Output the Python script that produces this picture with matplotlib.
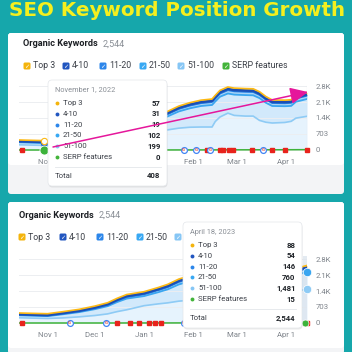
import numpy as np
import matplotlib
matplotlib.use("Agg")
import matplotlib.pyplot as plt
from matplotlib.patches import FancyBboxPatch

plt.rcParams["font.family"] = ["Roboto", "DejaVu Sans"]

# days counted from Nov 1, 2022
days = [-18, -10, 0, 10, 20, 30, 38, 44, 50, 61, 70, 76, 83, 90, 97,
        104, 106, 109, 114, 118, 125, 130, 134, 138, 142, 150, 154, 157, 164]
top3 = [55, 55, 57, 58, 60, 62, 64, 66, 68, 70, 72, 74, 76, 78, 80,
        80, 82, 84, 86, 86, 86, 86, 85, 84, 83, 83, 84, 86, 88]
pos4_10 = [30, 30, 31, 32, 33, 35, 37, 39, 41, 43, 45, 47, 49, 50, 52,
           52, 53, 55, 56, 56, 56, 56, 55, 54, 53, 53, 53, 54, 54]
pos11_20 = [18, 18, 19, 25, 30, 40, 50, 60, 70, 80, 90, 100, 110, 120, 125,
            130, 135, 140, 145, 145, 145, 145, 140, 135, 130, 130, 135, 140, 146]
pos21_50 = [107, 107, 102, 160, 207, 278, 339, 420, 491, 422, 513, 594, 735, 832, 923,
            968, 880, 891, 863, 913, 923, 913, 980, 857, 748, 714, 678, 720, 760]
pos51_100 = [230, 215, 199, 225, 270, 330, 400, 500, 580, 760, 840, 885, 960, 1000, 1010,
             1010, 1250, 1450, 1620, 1520, 1490, 1490, 1300, 1220, 1186, 1210, 1260, 1400, 1481]
serp = [0, 0, 0, 0, 0, 0, 0, 0, 1, 1, 2, 2, 3, 3, 4,
        4, 5, 6, 7, 8, 8, 9, 9, 10, 10, 11, 12, 13, 15]

flag_days = [-16, 44, 52, 58, 64, 68, 72, 101, 109, 111, 115, 117, 129, 142, 150, 164]
google_days = [14, 37, 86, 94, 103, 136]

xtick_days = [0, 30, 61, 92, 120, 151]
xtick_labels = ["Nov 1", "Dec 1", "Jan 1", "Feb 1", "Mar 1", "Apr 1"]
ytick_vals = [0, 703, 1406, 2109, 2812]
ytick_labels = ["0", "703", "1.4K", "2.1K", "2.8K"]

legend_labels = ["Top 3", "4-10", "11-20", "21-50", "51-100", "SERP features"]
legend_colors = ["#F4B40C", "#2156C0", "#2C86EA", "#38A8F3", "#86C6F5", "#43B43A"]

tip_labels = ["Top 3", "4-10", "11-20", "21-50", "51-100", "SERP features"]
tip1_title = "November 1, 2022"
tip1_values = ["57", "31", "19", "102", "199", "0"]
tip1_total = "408"
tip2_title = "April 18, 2023"
tip2_values = ["88", "54", "146", "760", "1,481", "15"]
tip2_total = "2,544"

TEAL = "#16A7AB"
GREEN = "#3DB33A"
RED = "#E8231C"
layers = [pos51_100, pos21_50, pos11_20, pos4_10, top3]
fills = ["#E6F3FD", "#D2E9FB", "#A9D4F7", "#3F7BD6", "#F9D36A"]
lines = ["#8ECBF5", "#3AA6F0", "#2482E6", "#1B4FB6", "#FDB913"]
widths = [1.2, 1.3, 1.3, 1.9, 1.2]

fig = plt.figure(figsize=(3.52, 3.52), dpi=100)
fig.patch.set_facecolor(TEAL)

bg = fig.add_axes([0, 0, 1, 1], zorder=0)
bg.set_xlim(0, 352)
bg.set_ylim(352, 0)
bg.axis("off")

fg = fig.add_axes([0, 0, 1, 1], zorder=3)
fg.set_xlim(0, 352)
fg.set_ylim(352, 0)
fg.axis("off")
fg.patch.set_alpha(0)

bg.text(177, 15.5, "SEO Keyword Position Growth", ha="center", va="baseline",
        fontsize=14.3, fontweight="bold", color="#F5EF1E", family="DejaVu Sans")

# panels
for top, white_h, total_h in [(33, 132, 161), (202, 146, 152)]:
    bg.add_patch(FancyBboxPatch((8, top), 336, total_h, boxstyle="round,pad=0,rounding_size=3",
                                fc="#F3F4F6", ec="none"))
    bg.add_patch(FancyBboxPatch((8, top), 336, white_h, boxstyle="round,pad=0,rounding_size=3",
                                fc="white", ec="none"))


def header(x, y, legend_x, n_text):
    bg.text(x, y, "Organic Keywords", ha="left", va="center", fontsize=6.6,
            fontweight="bold", color="#1C1F24")
    bg.text(x + 80, y, "2,544", ha="left", va="center", fontsize=6.6, color="#8A8F96")
    ly = y + 22
    for i, (lx, lab, col) in enumerate(zip(legend_x, legend_labels, legend_colors)):
        bg.add_patch(FancyBboxPatch((lx - 3.5, ly - 3.5), 7, 7,
                                    boxstyle="round,pad=0,rounding_size=1.5", fc=col, ec="none"))
        bg.text(lx, ly + 0.3, "\u2713", ha="center", va="center", fontsize=4.5,
                color="white", fontweight="bold", family="DejaVu Sans")
        # labels hidden under the tooltip are not drawn
        if i < n_text:
            bg.text(lx + 6, ly, lab, ha="left", va="center", fontsize=6.3, color="#3C4048")


header(23, 44, [27, 66, 103, 143, 181, 226], 6)
header(19, 215, [22, 63, 100, 140, 178], 4)


def chart(top_px, hover_day, filled_hover):
    ax = fig.add_axes([19 / 352, (352 - top_px - 76) / 352, 288 / 352, 76 / 352], zorder=1)
    ax.set_facecolor("none")
    ax.set_xlim(-18, 164)
    ax.set_ylim(-264, 3076)
    cum = np.cumsum(np.array(layers, dtype=float), axis=0)
    base = np.zeros(len(days))
    for row, fc in zip(cum, fills):
        ax.fill_between(days, base, row, color=fc, lw=0, zorder=1)
        base = row
    for row, lc, lw in zip(cum, lines, widths):
        ax.plot(days, row, color=lc, lw=lw, zorder=3, solid_joinstyle="round")
    ax.plot(days, serp, color=GREEN, lw=1.1, zorder=4)
    ax.plot(flag_days, np.zeros(len(flag_days)), "s", color=RED, ms=3.4, zorder=6, clip_on=False)
    ax.plot(google_days, np.zeros(len(google_days)), "o", mfc="white", mec="#4285F4",
            mew=0.9, ms=4.2, zorder=6, clip_on=False)
    for gd in google_days:
        ax.text(gd, 0, "G", ha="center", va="center", fontsize=3, fontweight="bold",
                color="#E34133", zorder=7)
    hy = [np.interp(hover_day, days, row) for row in cum]
    if filled_hover:
        ax.axvspan(hover_day - 2.3, hover_day + 2.3, ymin=0.04, ymax=0.96, color="#DCE5EE",
                   alpha=0.8, lw=0, zorder=2)
        for yv, lc in zip(hy[:2], lines[:2]):
            ax.plot(hover_day, yv, "o", color=lc, mec="white", mew=0.5, ms=6, zorder=7, clip_on=False)
        ax.plot(hover_day - 1, 0, "o", color=GREEN, mec="white", mew=0.5, ms=5, zorder=7, clip_on=False)
    else:
        ax.axvline(164, color="#D8DCE1", lw=0.8, ymin=0.08, ymax=0.92, zorder=2)
        for yv, lc in zip(hy, lines):
            ax.plot(hover_day, yv, "o", mfc="white", mec=lc, mew=0.8, ms=4.5, zorder=7)
        ax.plot(hover_day, 0, "o", color=GREEN, mec="white", mew=0.6, ms=6.5, zorder=7)
    ax.set_xticks(xtick_days)
    ax.set_xticklabels(xtick_labels)
    ax.set_yticks(ytick_vals)
    ax.set_yticklabels(ytick_labels)
    ax.yaxis.tick_right()
    ax.tick_params(length=0, labelsize=5.6, colors="#7F848B")
    ax.tick_params(axis="x", pad=2.2)
    ax.tick_params(axis="y", pad=6)
    ax.grid(axis="y", color="#ECEEF1", lw=0.7, zorder=0)
    for s in ax.spines.values():
        s.set_visible(False)
    return ax


chart(80, -2, False)
chart(253, 164, True)


def tooltip(x0, y0, title, values, total):
    w, h = 119, 106
    fg.add_patch(FancyBboxPatch((x0 + 0.5, y0 + 1.5), w, h, boxstyle="round,pad=0,rounding_size=4",
                                fc="black", alpha=0.08, ec="none"))
    fg.add_patch(FancyBboxPatch((x0, y0), w, h, boxstyle="round,pad=0,rounding_size=4",
                                fc="white", ec="#E3E6EA", lw=0.5))
    fg.text(x0 + 7, y0 + 10, title, ha="left", va="center", fontsize=5.3, color="#8A8F96")
    for i, (lab, val, col) in enumerate(zip(tip_labels, values, legend_colors)):
        y = y0 + 23 + i * 10.8
        fg.plot(x0 + 9, y, "o", color=col, ms=2.8, mew=0)
        fg.text(x0 + 15, y, lab, ha="left", va="center", fontsize=5.6, color="#3C4048")
        fg.text(x0 + 112.5, y, val, ha="right", va="center", fontsize=5.6,
                fontweight="bold", color="#1F2328")
    fg.plot([x0 + 7, x0 + 112.5], [y0 + 87, y0 + 87], color="#E3E6EA", lw=0.6)
    fg.text(x0 + 7, y0 + 96, "Total", ha="left", va="center", fontsize=5.6, color="#3C4048")
    fg.text(x0 + 112.5, y0 + 96, total, ha="right", va="center", fontsize=5.6,
            fontweight="bold", color="#1F2328")


tooltip(48, 80, tip1_title, tip1_values, tip1_total)
tooltip(183, 222, tip2_title, tip2_values, tip2_total)

fg.annotate("", xy=(308, 92), xytext=(53, 147),
            arrowprops=dict(arrowstyle="-|>,head_length=0.9,head_width=0.42", mutation_scale=12,
                            color="#E5179B", lw=1.1, shrinkA=0, shrinkB=0))

fig.savefig("out.png", dpi=100, facecolor=TEAL)
